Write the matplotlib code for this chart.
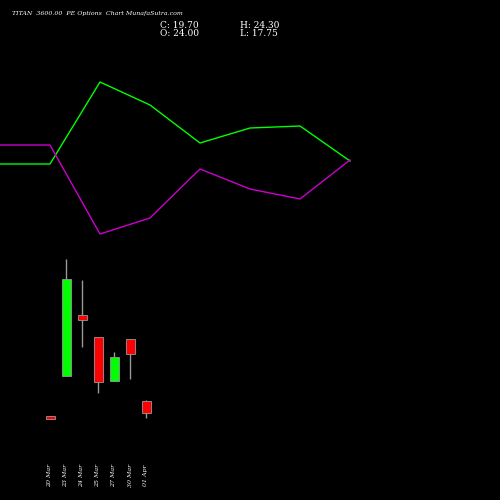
import matplotlib
matplotlib.use('Agg')
import matplotlib.pyplot as plt

# candle data
dates = ['20 Mar', '23 Mar', '24 Mar', '25 Mar', '27 Mar', '30 Mar', '01 Apr']
opens = [18.8, 33.0, 55.0, 47.0, 31.2, 46.3, 24.00]
highs = [18.8, 75.1, 67.6, 47.0, 41.6, 46.3, 24.30]
lows = [17.7, 33.0, 43.4, 26.9, 31.2, 31.9, 17.75]
closes = [17.7, 67.9, 53.2, 30.8, 39.8, 40.9, 19.70]

# indicator lines (arbitrary scale, higher = up)
green_vals = [336, 336, 418, 395, 357, 372, 374, 339]
magenta_vals = [355, 355, 266, 282, 331, 311, 301, 340]

fig = plt.figure(figsize=(5, 5), dpi=100, facecolor='black')
ax = fig.add_axes([0, 0, 1, 1], facecolor='black')
ax.set_xlim(0, 500)
ax.set_ylim(-11.6, 168.4)
ax.axis('off')

ax2 = fig.add_axes([0, 0, 1, 1], facecolor='none')
ax2.set_xlim(0, 500)
ax2.set_ylim(0, 500)
ax2.axis('off')

line_x = [50 * i for i in range(len(green_vals))]
ax2.plot(line_x, green_vals, color='#00ff00', lw=1)
ax2.plot(line_x, magenta_vals, color='#cc00cc', lw=1)

for i, d in enumerate(dates):
    x = 50 + 16 * i
    o, h, l, c = opens[i], highs[i], lows[i], closes[i]
    col = '#00ff00' if c >= o else '#ff0000'
    ax.vlines(x, l, h, color='#999999', lw=1, zorder=1)
    ax.bar(x, max(abs(c - o), 0.6), bottom=min(o, c), width=9, color=col,
           edgecolor='#999999', lw=0.6, zorder=2)
    ax2.text(x, 25, d, rotation=90, color='white', fontsize=4.5,
             family='DejaVu Serif', style='italic', ha='center', va='center')

ax2.text(12, 486, 'TITAN  3600.00  PE Options  Chart MunafaSutra.com', color='white',
         fontsize=4.5, family='DejaVu Serif', style='italic', va='center')
ax2.text(160, 475, 'C: 19.70', color='white', fontsize=6.5, family='DejaVu Serif', va='center')
ax2.text(160, 466, 'O: 24.00', color='white', fontsize=6.5, family='DejaVu Serif', va='center')
ax2.text(240, 475, 'H: 24.30', color='white', fontsize=6.5, family='DejaVu Serif', va='center')
ax2.text(240, 466, 'L: 17.75', color='white', fontsize=6.5, family='DejaVu Serif', va='center')

fig.savefig('out.png', dpi=100, facecolor='black')
